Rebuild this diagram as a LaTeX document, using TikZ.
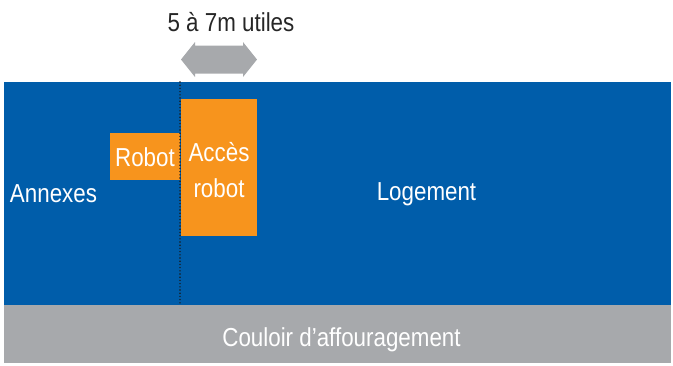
\documentclass[tikz,border=0pt]{standalone}
\usepackage{fontspec}
\setmainfont{Liberation Sans}[FakeStretch=0.86]
\definecolor{barnblue}{RGB}{0,93,170}
\definecolor{robotorange}{RGB}{247,148,29}
\definecolor{lanegray}{RGB}{167,169,172}
\begin{document}
\begin{tikzpicture}[x=1pt,y=-1pt,
  zone/.style={draw=none,inner sep=0pt,outer sep=0pt},
  label/.style={text=white,font=\fontsize{26}{36}\selectfont,inner sep=0pt},
  toplabel/.style={text=black!85,font=\fontsize{26}{36}\selectfont,inner sep=0pt}]
\useasboundingbox (0,0) rectangle (673,365);
% barn area and feeding lane
\fill[barnblue] (4,82) rectangle (671,305);
\fill[lanegray] (4,305) rectangle (671,363);
% robot boxes
\node[zone,fill=robotorange,minimum width=70pt,minimum height=47pt,anchor=north west] (robot) at (110,133) {};
\node[zone,fill=robotorange,minimum width=76pt,minimum height=137pt,anchor=north west] (acces) at (181,99) {};
% dotted separation line
\coordinate (sepTop) at (180,82);
\coordinate (sepBot) at (180,305);
\draw[black!90,line width=1.6pt,line cap=round,dash pattern=on 0pt off 3.2pt] (sepTop) -- (sepBot);
% width arrow
\fill[lanegray] (181,59.5) -- (195,42) -- (195,45.5) -- (243,45.5) -- (243,42) -- (257,59.5)
  -- (243,77) -- (243,73.5) -- (195,73.5) -- (195,77) -- cycle;
% labels
\node[toplabel] (width) at (231,22) {5 à 7m utiles};
\node[label] (robotlbl) at (145,157) {Robot};
\node[label,align=center] (acceslbl) at (219,170) {Accès\\robot};
\node[label] (annexes) at (53.5,194) {Annexes};
\node[label] (logement) at (426.5,194) {Logement};
\node[label] (couloir) at (341.5,340) {Couloir d’affouragement};
\end{tikzpicture}
\end{document}
